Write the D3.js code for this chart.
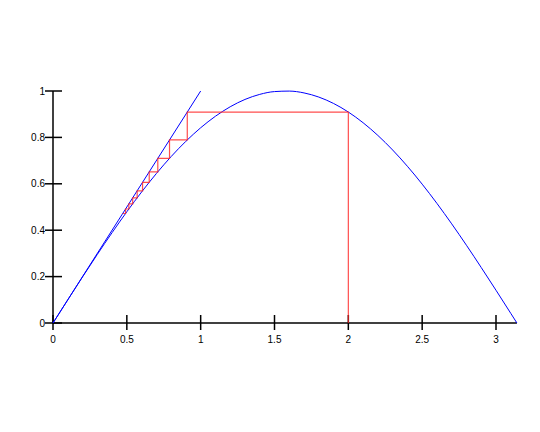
<!DOCTYPE html>
<html>
<head>
<meta charset="utf-8">
<script src="https://cdn.jsdelivr.net/npm/d3@7"></script>
<style>
  body { margin: 0; background: #fff; }
  text { font-family: "Liberation Sans", Arial, sans-serif; font-size: 10px; fill: #000; }
</style>
</head>
<body>
<div id="scene"></div>
<script>
// sine curve
const curveX = [0, 0.1, 0.2, 0.3, 0.4, 0.5, 0.6, 0.7, 0.8, 0.9, 1.0, 1.1, 1.2, 1.3, 1.4, 1.5, 1.6,
    1.7, 1.8, 1.9, 2.0, 2.1, 2.2, 2.3, 2.4, 2.5, 2.6, 2.7, 2.8, 2.9, 3.0, 3.1, 3.1416];
const curveY = [0, 0.0998, 0.1987, 0.2955, 0.3894, 0.4794, 0.5646, 0.6442, 0.7174, 0.7833, 0.8415,
    0.8912, 0.9320, 0.9636, 0.9854, 0.9975, 0.9996, 0.9917, 0.9738, 0.9463, 0.9093, 0.8632, 0.8085,
    0.7457, 0.6755, 0.5985, 0.5155, 0.4274, 0.3350, 0.2392, 0.1411, 0.0416, 0];

// diagonal y = x
const diagX = [0, 1];
const diagY = [0, 1];

// cobweb iterates starting at x = 2
const iterates = [2, 0.9093, 0.7891, 0.7097, 0.6516, 0.6064, 0.5699, 0.5395, 0.5136, 0.4914, 0.4719];

const xTicks = [0, 0.5, 1, 1.5, 2, 2.5, 3];
const yTicks = [0, 0.2, 0.4, 0.6, 0.8, 1];

const width = 540;
const height = 432;

const xScale = d3.scaleLinear().domain([0, 3]).range([53, 496]);
const yScale = d3.scaleLinear().domain([0, 1]).range([323, 91]);
const xMax = Math.PI;

const svg = d3.select("#scene")
    .append("svg")
    .attr("width", width)
    .attr("height", height);

const line = d3.line()
    .x((d) => xScale(d.x))
    .y((d) => yScale(d.y));

// axes
svg.append("line")
    .attr("x1", xScale(0)).attr("y1", yScale(0))
    .attr("x2", xScale(xMax)).attr("y2", yScale(0))
    .attr("stroke", "#000").attr("stroke-width", 1.5);

svg.append("line")
    .attr("x1", xScale(0)).attr("y1", yScale(0))
    .attr("x2", xScale(0)).attr("y2", yScale(1))
    .attr("stroke", "#000").attr("stroke-width", 1.5);

svg.selectAll(".xTicks")
    .data(xTicks)
    .enter().append("line")
    .attr("class", "xTicks")
    .attr("x1", (d) => xScale(d)).attr("x2", (d) => xScale(d))
    .attr("y1", yScale(0) - 8).attr("y2", yScale(0) + 7)
    .attr("stroke", "#000").attr("stroke-width", 1.5);

svg.selectAll(".yTicks")
    .data(yTicks)
    .enter().append("line")
    .attr("class", "yTicks")
    .attr("y1", (d) => yScale(d)).attr("y2", (d) => yScale(d))
    .attr("x1", xScale(0) - 8).attr("x2", xScale(0) + 9)
    .attr("stroke", "#000").attr("stroke-width", 1.5);

svg.selectAll(".xLabel")
    .data(xTicks)
    .enter().append("text")
    .attr("class", "xLabel")
    .text(String)
    .attr("x", (d) => xScale(d))
    .attr("y", yScale(0) + 20)
    .attr("text-anchor", "middle");

svg.selectAll(".yLabel")
    .data(yTicks)
    .enter().append("text")
    .attr("class", "yLabel")
    .text(String)
    .attr("x", xScale(0) - 8)
    .attr("y", (d) => yScale(d))
    .attr("dy", "0.35em")
    .attr("text-anchor", "end");

// curves
svg.append("path")
    .datum(curveX.map((x, i) => ({ x: x, y: curveY[i] })))
    .attr("d", line.curve(d3.curveMonotoneX))
    .attr("fill", "none")
    .attr("stroke", "#0000ff")
    .attr("stroke-width", 1);

svg.append("path")
    .datum(diagX.map((x, i) => ({ x: x, y: diagY[i] })))
    .attr("d", d3.line().x((d) => xScale(d.x)).y((d) => yScale(d.y)))
    .attr("fill", "none")
    .attr("stroke", "#0000ff")
    .attr("stroke-width", 1);

// cobweb path: (x0,0) -> (x0,x1) -> (x1,x1) -> (x1,x2) ...
const web = [{ x: iterates[0], y: 0 }];
for (let i = 0; i < iterates.length - 1; i++) {
    web.push({ x: iterates[i], y: iterates[i + 1] });
    web.push({ x: iterates[i + 1], y: iterates[i + 1] });
}

svg.append("path")
    .datum(web)
    .attr("d", d3.line().x((d) => xScale(d.x)).y((d) => yScale(d.y)))
    .attr("fill", "none")
    .attr("stroke", "#ff2020")
    .attr("stroke-opacity", 0.8)
    .attr("stroke-width", 1.2);
</script>
</body>
</html>
